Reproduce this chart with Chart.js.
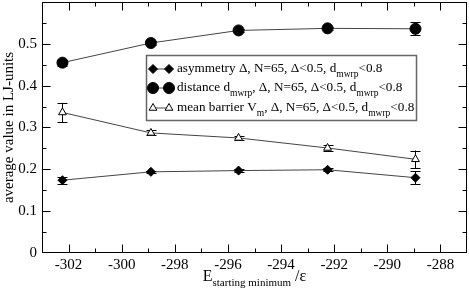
<!DOCTYPE html>
<html>
<head>
<meta charset="utf-8">
<script src="https://cdn.jsdelivr.net/npm/chart.js@4/dist/chart.umd.min.js"></script>
<style>
  html, body { margin: 0; padding: 0; background: #fff; }
  #wrap { position: relative; width: 469px; height: 293px; }
  #xtitle { position: absolute; left: 42px; width: 425px; top: 268px; text-align: center;
            font-family: "Liberation Serif", serif; font-size: 16px; color: #000; line-height: 16px; }
  #xtitle sub { font-size: 11px; vertical-align: -5px; }
</style>
</head>
<body>
<div id="wrap">
  <canvas id="chart" width="469" height="293"></canvas>
  <div id="xtitle">E<sub>starting minimum</sub> /ε</div>
</div>
<script>
// x positions (starting-minimum energy)
const energies = [-302.23, -298.9, -295.6, -292.25, -288.94];

const asymmetry = [0.174, 0.194, 0.197, 0.199, 0.180];
const asymmetryErr = [0.008, 0.003, 0.003, 0.003, 0.015];

const distance = [0.455, 0.502, 0.532, 0.537, 0.536];
const distanceErr = [0.007, 0.004, 0.004, 0.004, 0.016];

const barrier = [0.336, 0.287, 0.275, 0.251, 0.224];
const barrierErr = [0.023, 0.006, 0.004, 0.006, 0.021];

const xTicks = [-302, -300, -298, -296, -294, -292, -290, -288];
const yTicks = [0, 0.1, 0.2, 0.3, 0.4, 0.5];

const serif = '"Liberation Serif", "Times New Roman", serif';
const lineColor = '#444';

function pts(ys) {
    return ys.map((y, i) => ({x: energies[i], y: y}));
}

// vertical error bars with caps
const errorBars = {
    id: 'errorBars',
    beforeDatasetsDraw(chart) {
        const ctx = chart.ctx;
        const xs = chart.scales.x, ys = chart.scales.y;
        ctx.save();
        ctx.strokeStyle = '#000';
        ctx.lineWidth = 1;
        chart.data.datasets.forEach(ds => {
            ds.data.forEach((p, i) => {
                const e = ds.errors[i];
                const px = Math.round(xs.getPixelForValue(p.x)) + 0.5;
                const top = ys.getPixelForValue(p.y + e);
                const bot = ys.getPixelForValue(p.y - e);
                ctx.beginPath();
                ctx.moveTo(px, top); ctx.lineTo(px, bot);
                ctx.moveTo(px - 5, Math.round(top) + 0.5); ctx.lineTo(px + 5, Math.round(top) + 0.5);
                ctx.moveTo(px - 5, Math.round(bot) + 0.5); ctx.lineTo(px + 5, Math.round(bot) + 0.5);
                ctx.stroke();
            });
        });
        ctx.restore();
    }
};

// box frame with inward ticks on all four sides
const frame = {
    id: 'frame',
    afterDraw(chart) {
        const ctx = chart.ctx;
        const a = chart.chartArea;
        const xs = chart.scales.x, ys = chart.scales.y;
        ctx.save();
        ctx.strokeStyle = '#000';
        ctx.lineWidth = 1;
        const L = Math.round(a.left) + 0.5, R = Math.round(a.right) - 0.5;
        const T = Math.round(a.top) + 0.5, B = Math.round(a.bottom) - 0.5;
        ctx.strokeRect(L, T, R - L, B - T);
        ctx.beginPath();
        for (let v = xs.min + 1; v < xs.max; v += 1) {
            const px = Math.round(xs.getPixelForValue(v)) + 0.5;
            const len = (v % 2 === 0) ? 8 : 4;
            ctx.moveTo(px, B); ctx.lineTo(px, B - len);
            ctx.moveTo(px, T); ctx.lineTo(px, T + len);
        }
        for (let k = 1; k < 12; k++) {
            const v = k * 0.05;
            const py = Math.round(ys.getPixelForValue(v)) + 0.5;
            const len = (k % 2 === 0) ? 8 : 4;
            ctx.moveTo(L, py); ctx.lineTo(L + len, py);
            ctx.moveTo(R, py); ctx.lineTo(R - len, py);
        }
        ctx.stroke();
        ctx.restore();
    }
};

// legend box with subscripted labels
const legendEntries = [
    {style: 'rectRot', radius: 4.5, fill: '#000', parts: [['asymmetry Δ, N=65, Δ<0.5, d'], ['mwrp', 1], ['<0.8']]},
    {style: 'circle', radius: 5.5, fill: '#000', parts: [['distance d'], ['mwrp', 1], [', Δ, N=65, Δ<0.5, d'], ['mwrp', 1], ['<0.8']]},
    {style: 'triangle', radius: 4.5, fill: '#fff', parts: [['mean barrier V'], ['m', 1], [', Δ, N=65, Δ<0.5, d'], ['mwrp', 1], ['<0.8']]}
];

const legendBox = {
    id: 'legendBox',
    afterDraw(chart) {
        const ctx = chart.ctx;
        ctx.save();
        ctx.fillStyle = '#fff';
        ctx.fillRect(146, 55, 271, 66);
        ctx.strokeStyle = '#666';
        ctx.lineWidth = 1.5;
        ctx.strokeRect(146.5, 55.5, 270, 65);
        const rows = [69, 88, 108];
        legendEntries.forEach((en, i) => {
            const y = rows[i];
            ctx.strokeStyle = lineColor;
            ctx.lineWidth = 1;
            ctx.beginPath();
            ctx.moveTo(153, y); ctx.lineTo(169, y);
            ctx.stroke();
            ctx.strokeStyle = '#000';
            ctx.fillStyle = en.fill;
            [153, 169].forEach(px => {
                Chart.helpers.drawPoint(ctx, {pointStyle: en.style, radius: en.radius, borderWidth: 1}, px, y);
            });
            let x = 177;
            ctx.fillStyle = '#000';
            ctx.textBaseline = 'middle';
            en.parts.forEach(([txt, sub]) => {
                ctx.font = sub ? '9.5px ' + serif : '13.2px ' + serif;
                ctx.fillText(txt, x, sub ? y + 5 : y);
                x += ctx.measureText(txt).width;
            });
        });
        ctx.restore();
    }
};

function ds(label, ys, errs, style, radius, fill) {
    return {
        label: label,
        data: pts(ys),
        errors: errs,
        showLine: true,
        borderColor: lineColor,
        borderWidth: 1,
        pointStyle: style,
        pointRadius: radius,
        pointBackgroundColor: fill,
        pointBorderColor: '#000',
        pointBorderWidth: 1
    };
}

new Chart(document.getElementById('chart'), {
    type: 'scatter',
    data: {
        datasets: [
            ds('asymmetry', asymmetry, asymmetryErr, 'rectRot', 4.5, '#000'),
            ds('distance', distance, distanceErr, 'circle', 5.5, '#000'),
            ds('mean barrier', barrier, barrierErr, 'triangle', 4.5, '#fff')
        ]
    },
    options: {
        responsive: false,
        animation: false,
        layout: {autoPadding: false, padding: {top: 2, right: 2, left: 0, bottom: 0}},
        plugins: {legend: {display: false}, tooltip: {enabled: false}},
        scales: {
            x: {
                type: 'linear',
                min: -303, max: -287,
                grid: {display: false, drawTicks: false},
                border: {display: false},
                afterBuildTicks: s => { s.ticks = xTicks.map(v => ({value: v})); },
                afterFit: s => { s.height = 40; s.paddingLeft = 0; s.paddingRight = 0; },
                ticks: {
                    color: '#000', padding: 3,
                    font: {family: serif, size: 15},
                    callback: v => String(v)
                }
            },
            y: {
                min: 0, max: 0.6,
                grid: {display: false, drawTicks: false},
                border: {display: false},
                afterBuildTicks: s => { s.ticks = yTicks.map(v => ({value: v})); },
                afterFit: s => { s.width = 42; s.paddingTop = 0; s.paddingBottom = 0; },
                ticks: {
                    color: '#000', padding: 5,
                    font: {family: serif, size: 15},
                    callback: v => v === 0 ? '0' : v.toFixed(1)
                },
                title: {
                    display: true,
                    text: 'average value in LJ-units',
                    color: '#000',
                    padding: 0,
                    font: {family: serif, size: 15}
                }
            }
        }
    },
    plugins: [errorBars, frame, legendBox]
});
</script>
</body>
</html>
